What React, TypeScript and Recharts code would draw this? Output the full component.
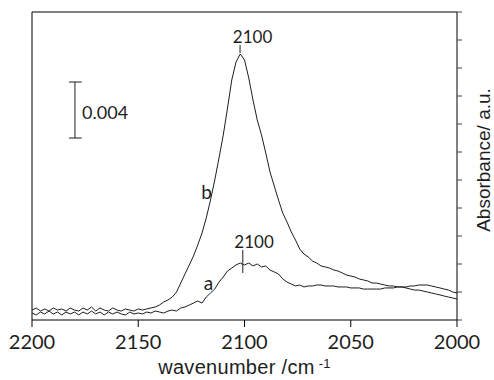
import React from 'react';
import { LineChart, Line, XAxis, YAxis, ReferenceLine, ReferenceDot } from 'recharts';

// wavenumber grid (cm-1)
const WAVENUMBERS: number[] = [
  2200, 2198, 2196, 2194, 2192, 2190, 2188, 2186, 2184, 2182,
  2180, 2178, 2176, 2174, 2172, 2170, 2168, 2166, 2164, 2162,
  2160, 2158, 2156, 2154, 2152, 2150, 2148, 2146, 2144, 2142,
  2140, 2138, 2136, 2134, 2132, 2130, 2128, 2126, 2124, 2122,
  2120, 2118, 2116, 2114, 2112, 2110, 2108, 2106, 2104, 2102,
  2100, 2098, 2096, 2094, 2092, 2090, 2088, 2086, 2084, 2082,
  2080, 2078, 2076, 2074, 2072, 2070, 2068, 2066, 2064, 2062,
  2060, 2058, 2056, 2054, 2052, 2050, 2048, 2046, 2044, 2042,
  2040, 2038, 2036, 2034, 2032, 2030, 2028, 2026, 2024, 2022,
  2020, 2018, 2016, 2014, 2012, 2010, 2008, 2006, 2004, 2002,
  2000,
];

// absorbance, units of 1e-3 a.u.
const SERIES_A: number[] = [
  0.5, 0.36, 0.57, 0.43, 0.64, 0.43, 0.57, 0.36, 0.57, 0.43,
  0.57, 0.36, 0.57, 0.43, 0.64, 0.43, 0.57, 0.36, 0.57, 0.43,
  0.57, 0.43, 0.36, 0.57, 0.43, 0.5, 0.43, 0.57, 0.5, 0.64,
  0.57, 0.5, 0.64, 0.71, 0.64, 0.86, 0.93, 1.07, 1.21, 1.36,
  1.21, 1.64, 1.93, 2.21, 2.71, 3.07, 3.5, 3.71, 3.93, 4.07,
  3.93, 4.07, 3.86, 4.0, 3.79, 3.86, 3.57, 3.43, 3.29, 2.93,
  2.71, 2.57, 2.43, 2.5, 2.36, 2.43, 2.43, 2.5, 2.5, 2.43,
  2.43, 2.43, 2.36, 2.36, 2.36, 2.29, 2.29, 2.29, 2.21, 2.21,
  2.21, 2.21, 2.21, 2.29, 2.29, 2.29, 2.36, 2.36, 2.36, 2.43,
  2.43, 2.5, 2.5, 2.5, 2.43, 2.36, 2.29, 2.21, 2.14, 2.0,
  1.93,
];

const SERIES_B: number[] = [
  0.71, 0.86, 0.64, 0.79, 0.64, 0.86, 0.71, 0.79, 0.64, 0.86,
  0.71, 0.64, 0.86, 0.71, 0.93, 0.64, 0.86, 0.71, 0.64, 0.86,
  0.71, 0.64, 0.79, 0.71, 0.64, 0.79, 0.71, 0.79, 0.86, 0.93,
  1.07, 1.29, 1.43, 1.64, 2.0, 2.64, 3.29, 3.93, 4.57, 5.36,
  6.21, 7.29, 8.57, 10.0, 11.57, 13.21, 15.14, 17.14, 18.43, 19.0,
  18.57, 17.29, 15.71, 14.29, 13.21, 11.93, 10.57, 9.57, 8.57, 7.64,
  7.0, 6.29, 5.71, 5.07, 4.71, 4.5, 4.21, 4.07, 3.86, 3.79,
  3.71, 3.57, 3.5, 3.36, 3.21, 3.14, 3.07, 2.93, 2.86, 2.79,
  2.64, 2.64, 2.57, 2.5, 2.43, 2.43, 2.36, 2.36, 2.29, 2.21,
  2.14, 2.14, 2.07, 2.0, 1.93, 1.86, 1.79, 1.71, 1.64, 1.57,
  1.5,
];

const X_TICKS: number[] = [2200, 2150, 2100, 2050, 2000];
const Y_TICKS: number[] = [0, 2, 4, 6, 8, 10, 12, 14, 16, 18, 20, 22];
const X_DOMAIN: [number, number] = [2000, 2200];
const Y_DOMAIN: [number, number] = [0, 22];

const X_TITLE = 'wavenumber /cm';
const X_TITLE_SUP = '-1';
const Y_TITLE = 'Absorbance/ a.u.';

// peak annotations: marker line (wn, from, to) and label centre
const PEAK_MARKS = [
  { wn: 2102.1, from: 19.07, to: 19.64 },
  { wn: 2100.8, from: 3.36, to: 5.0 },
];
const TEXT_LABELS = [
  { text: '2100', wn: 2096.2, value: 20.21, size: 17 },
  { text: '2100', wn: 2095.5, value: 5.54, size: 17 },
  { text: 'b', wn: 2117.9, value: 9.14, size: 19 },
  { text: 'a', wn: 2116.9, value: 2.64, size: 19 },
  { text: '0.004', wn: 2165.6, value: 14.79, size: 18 },
];
// scale bar: 0.004 a.u. = 4 units
const SCALE_BAR = { wn: 2179.8, from: 13, to: 17, capLeft: 2182.6, capRight: 2176.6 };

const data = WAVENUMBERS.map((wn, i) => ({ wn, a: SERIES_A[i], b: SERIES_B[i] }));

const INK = '#1e1e1e';
const CAL = 'Lato, "Open Sans", sans-serif';
const ARIAL = '"Liberation Sans", Arial, sans-serif';

const XTitle = (props: any) => {
  const vb = props.viewBox || {};
  const cx = vb.x + vb.width / 2;
  return (
    <text x={cx} y={vb.y + 54} textAnchor="middle" fontFamily={ARIAL} fontSize={20} fill={INK} letterSpacing={0.3}>
      {X_TITLE}
      <tspan fontSize={13} dx={4} dy={-6}>{X_TITLE_SUP}</tspan>
    </text>
  );
};

const YTitle = (props: any) => {
  const vb = props.viewBox || {};
  const x = vb.x + 33;
  const y = 160;
  return (
    <text x={x} y={y} transform={`rotate(-90, ${x}, ${y})`} textAnchor="middle" fontFamily={ARIAL} fontSize={19} fill={INK}>
      {Y_TITLE}
    </text>
  );
};

const NoTick = () => <g />;

export default function App() {
  return (
    <div style={{ position: 'absolute', left: 0, top: 0, width: 494, height: 380, background: '#fff' }}>
      <LineChart width={494} height={380} data={data} margin={{ top: 12, right: 0, bottom: 0, left: 32 }}>
        <XAxis
          dataKey="wn"
          type="number"
          domain={X_DOMAIN}
          ticks={X_TICKS}
          reversed
          allowDataOverflow
          height={60}
          axisLine={{ stroke: '#000', strokeWidth: 1 }}
          tickLine={{ stroke: '#000', strokeWidth: 1 }}
          tickSize={7}
          tickMargin={8}
          tick={{ fontFamily: CAL, fontSize: 20, fill: INK }}
          label={XTitle}
        />
        <YAxis
          orientation="right"
          type="number"
          domain={Y_DOMAIN}
          ticks={Y_TICKS}
          width={37}
          allowDataOverflow
          axisLine={{ stroke: '#000', strokeWidth: 1 }}
          tickLine={{ stroke: '#444', strokeWidth: 1 }}
          tickSize={5}
          tick={NoTick}
          label={YTitle}
        />
        <ReferenceLine x={X_DOMAIN[1]} stroke="#000" strokeWidth={1} />
        <ReferenceLine y={Y_DOMAIN[1]} stroke="#000" strokeWidth={1} />
        <Line type="linear" dataKey="a" stroke={INK} strokeWidth={1} dot={false} isAnimationActive={false} />
        <Line type="linear" dataKey="b" stroke={INK} strokeWidth={1} dot={false} isAnimationActive={false} />
        {PEAK_MARKS.map((m, i) => (
          <ReferenceLine key={'pm' + i} segment={[{ x: m.wn, y: m.from }, { x: m.wn, y: m.to }]} stroke={INK} strokeWidth={1} />
        ))}
        <ReferenceLine segment={[{ x: SCALE_BAR.wn, y: SCALE_BAR.from }, { x: SCALE_BAR.wn, y: SCALE_BAR.to }]} stroke={INK} strokeWidth={1} />
        <ReferenceLine segment={[{ x: SCALE_BAR.capLeft, y: SCALE_BAR.from }, { x: SCALE_BAR.capRight, y: SCALE_BAR.from }]} stroke={INK} strokeWidth={1} />
        <ReferenceLine segment={[{ x: SCALE_BAR.capLeft, y: SCALE_BAR.to }, { x: SCALE_BAR.capRight, y: SCALE_BAR.to }]} stroke={INK} strokeWidth={1} />
        {TEXT_LABELS.map((t, i) => (
          <ReferenceDot
            key={'tl' + i}
            x={t.wn}
            y={t.value}
            r={0}
            fill="none"
            stroke="none"
            label={{ value: t.text, position: 'center', fontFamily: CAL, fontSize: t.size, fill: INK }}
          />
        ))}
      </LineChart>
    </div>
  );
}
